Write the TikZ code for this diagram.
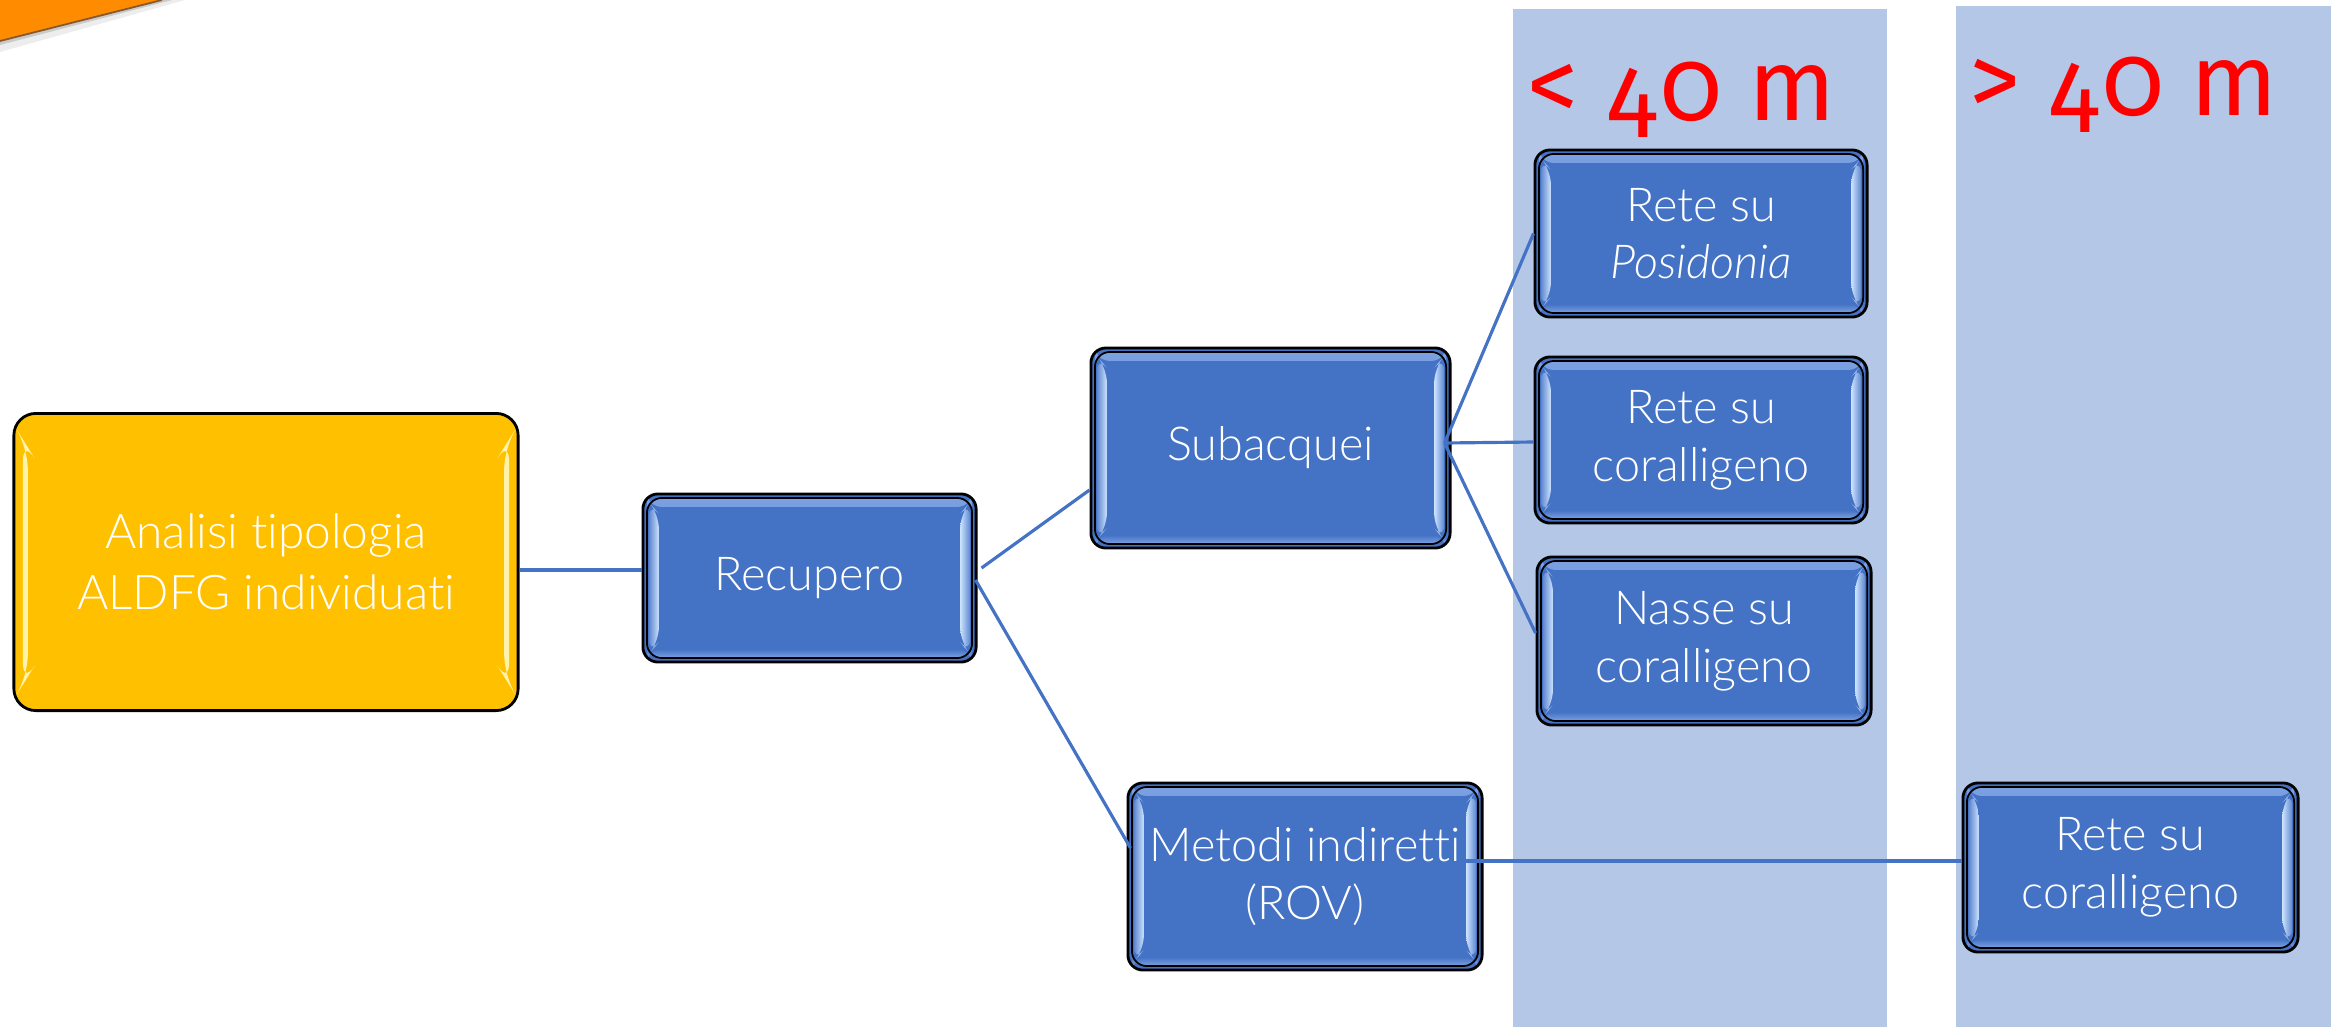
\documentclass[tikz,border=0pt]{standalone}
\usepackage{fontspec}
\setmainfont{Lato Light}[ItalicFont={Lato Light Italic}, Ligatures=NoCommon]
\newfontfamily\depthfont{Fira Sans}[Numbers=OldStyle]
\newfontfamily\depthlining{Fira Sans}[Numbers=Lining]
\definecolor{boxblue}{RGB}{68,114,196}
\definecolor{bvlight}{RGB}{125,162,226}
\definecolor{bvmid}{RGB}{95,135,208}
\definecolor{bvbright}{RGB}{205,228,255}
\definecolor{colblue}{RGB}{180,199,231}
\definecolor{ylw}{RGB}{255,192,0}
\definecolor{ylwhi}{RGB}{255,248,190}
\definecolor{lineblue}{RGB}{68,114,196}
\definecolor{orng}{RGB}{255,140,0}
\definecolor{depthred}{RGB}{255,0,0}
\newcommand{\bluebevel}{%
  \fill[top color=bvlight, bottom color=boxblue]
    ([shift={(4,4)}]path picture bounding box.north west) rectangle
    ([shift={(-4,13)}]path picture bounding box.north east);
  \fill[top color=boxblue, bottom color=bvlight]
    ([shift={(4,-13)}]path picture bounding box.south west) rectangle
    ([shift={(-4,-4)}]path picture bounding box.south east);
  \fill[left color=bvmid, right color=bvbright]
    ([shift={(6,8)}]path picture bounding box.north west) --
    ([shift={(16,20)}]path picture bounding box.north west) --
    ([shift={(16,-20)}]path picture bounding box.south west) --
    ([shift={(6,-8)}]path picture bounding box.south west) -- cycle;
  \fill[left color=bvbright, right color=bvmid]
    ([shift={(-16,20)}]path picture bounding box.north east) --
    ([shift={(-6,8)}]path picture bounding box.north east) --
    ([shift={(-6,-8)}]path picture bounding box.south east) --
    ([shift={(-16,-20)}]path picture bounding box.south east) -- cycle;
  \draw[black, line width=0.5pt]
    ([shift={(4,4)}]path picture bounding box.north west) rectangle
    ([shift={(-4,-4)}]path picture bounding box.south east);
}
\newcommand{\yellowbevel}{%
  \fill[ylwhi, opacity=0.9]
    ([shift={(9,26)}]path picture bounding box.north west) --
    ([shift={(14,34)}]path picture bounding box.north west) --
    ([shift={(14,-34)}]path picture bounding box.south west) --
    ([shift={(9,-26)}]path picture bounding box.south west) -- cycle;
  \fill[ylwhi, opacity=0.9]
    ([shift={(-14,34)}]path picture bounding box.north east) --
    ([shift={(-9,26)}]path picture bounding box.north east) --
    ([shift={(-9,-26)}]path picture bounding box.south east) --
    ([shift={(-14,-34)}]path picture bounding box.south east) -- cycle;
}
\tikzset{
  boxtext/.style={text=white, align=center, inner sep=0pt,
    font=\fontsize{13.3}{16.4}\selectfont},
  bluebox/.style={boxtext, draw=black, line width=0.8pt, rounded corners=0.15cm,
    fill=boxblue, path picture={\bluebevel}},
  ylwbox/.style={boxtext, draw=black, line width=0.8pt, rounded corners=0.22cm,
    fill=ylw, path picture={\yellowbevel}, font=\fontsize{13.6}{17.3}\selectfont},
  conn/.style={draw=lineblue, line width=0.9pt},
  depth/.style={text=depthred, inner sep=0pt, anchor=base,
    font=\depthfont\fontsize{29}{32}\selectfont},
  column/.style={fill=colblue}
}
\newcommand{\downfour}{\raisebox{-0.17cm}{\depthlining 4}}
\begin{document}
\begin{tikzpicture}[x=0.01cm,y=-0.01cm]
\useasboundingbox (0,0) rectangle (2331,1027);
% background columns
\fill[column] (1513,9) rectangle (1887,1027);
\fill[column] (1956,6) rectangle (2331,1027);
% orange corner with shadow
\fill[black, opacity=0.07] (0,0) -- (185,0) -- (0,52) -- cycle;
\fill[black, opacity=0.15] (0,0) -- (172,0) -- (0,45) -- cycle;
\fill[orng] (0,0) -- (162,0) -- (0,41) -- cycle;
\draw[brown!70!black, line width=0.5pt] (162,0) -- (0,41);
% depth labels
\node[depth] (lt40) at (1682,120) {< \downfour0 m};
\node[depth] (gt40) at (2124,115) {> \downfour0 m};
% nodes
\node[ylwbox, minimum width=5.04cm, minimum height=2.97cm] (ana) at (266,562)
  {Analisi tipologia\\ALDFG individuati};
\node[bluebox, minimum width=3.33cm, minimum height=1.68cm] (rec) at (809.5,578) {Recupero};
\node[bluebox, minimum width=3.59cm, minimum height=2.00cm] (sub) at (1270.5,448) {Subacquei};
\node[bluebox, minimum width=3.32cm, minimum height=1.67cm] (pos) at (1701,233.5)
  {Rete su\\\textit{Posidonia}};
\node[bluebox, minimum width=3.32cm, minimum height=1.66cm] (cor) at (1701,440)
  {Rete su\\coralligeno};
\node[bluebox, minimum width=3.34cm, minimum height=1.68cm] (nas) at (1704,641)
  {Nasse su\\coralligeno};
\node[bluebox, minimum width=3.54cm, minimum height=1.87cm] (met) at (1305,876.5)
  {Metodi indiretti\\(ROV)};
\node[bluebox, minimum width=3.35cm, minimum height=1.69cm] (cor2) at (2130.5,867.5)
  {Rete su\\coralligeno};
% connectors
\coordinate (hub) at ([shift={(-7,-5)}]sub.east);
\draw[conn] ([shift={(0,8)}]ana.east) -- ([shift={(0,-8)}]rec.west);
\draw[conn] ([shift={(4,-10)}]rec.east) -- ([shift={(0,42)}]sub.west);
\draw[conn] ([shift={(-2,2)}]rec.east) -- ([shift={(4,-28.5)}]met.west);
\draw[conn] (hub) -- (pos.west);
\draw[conn] (hub) -- ([shift={(0,2)}]cor.west);
\draw[conn] (hub) -- ([shift={(0,-8)}]nas.west);
\draw[conn] ([shift={(-20,-15.5)}]met.east) -- ([shift={(0,-6.5)}]cor2.west);
\end{tikzpicture}
\end{document}
